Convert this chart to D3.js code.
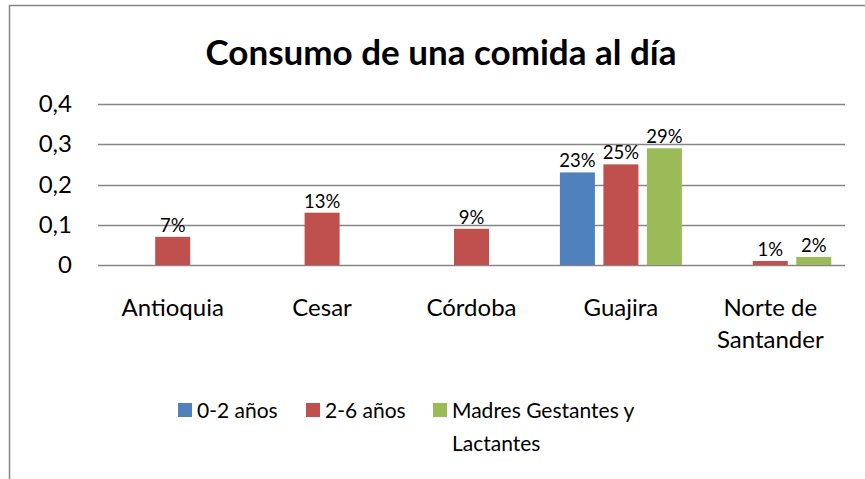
<!DOCTYPE html>
<html>
<head>
<meta charset="utf-8">
<script src="https://cdn.jsdelivr.net/npm/d3@7"></script>
<style>
  body { margin: 0; background: #fff; }
  text { font-family: Lato, "Open Sans", sans-serif; fill: #000; }
</style>
</head>
<body>
<div id="chart"></div>
<script>
// Consumo de una comida al dia - grouped bars

var categories = ["Antioquia", "Cesar", "Córdoba", "Guajira", "Norte de Santander"]
var seriesNames = ["0-2 años", "2-6 años", "Madres Gestantes y Lactantes"]
var infants = [null, null, null, 0.23, null]
var children = [0.07, 0.13, 0.09, 0.25, 0.01]
var mothers = [null, null, null, 0.29, 0.02]
var yTicks = [0, 0.1, 0.2, 0.3, 0.4]
var yTickLabels = ["0", "0,1", "0,2", "0,3", "0,4"]
var colors = ["#4F81BD", "#C0504D", "#9BBB59"]

var width = 865, height = 479

var svg = d3.select("#chart").append("svg")
    .attr("width", width)
    .attr("height", height)

// chart frame (cropped on the right and bottom)
svg.append("path")
  .attr("d", "M9.5," + height + "V5.5H" + width)
  .attr("fill", "none")
  .attr("stroke", "#868686")
  .attr("stroke-width", 1.5)

svg.append("text")
  .attr("x", 441)
  .attr("y", 65)
  .attr("text-anchor", "middle")
  .style("font-size", "35px")
  .style("font-weight", "bold")
  .text("Consumo de una comida al día")

var x = d3.scaleBand()
  .domain(categories)
  .range([98, 845])

var y = d3.scaleLinear()
  .domain([0, 0.4])
  .range([265, 104])

var barWidth = 35, barGap = 8.5
var xSeries = d3.scaleBand()
  .domain([0, 1, 2])
  .range([0, 3 * barWidth + 2 * barGap])
  .paddingInner(barGap / (barWidth + barGap))

// gridlines
svg.selectAll(".grid")
  .data(yTicks)
  .enter().append("line")
  .attr("class", "grid")
  .attr("x1", 98)
  .attr("x2", 845)
  .attr("y1", function (d) { return Math.round(y(d)) + 0.5 })
  .attr("y2", function (d) { return Math.round(y(d)) + 0.5 })
  .attr("stroke", "#868686")
  .attr("stroke-width", 1.5)

svg.selectAll(".ytick")
  .data(yTicks)
  .enter().append("text")
  .attr("class", "ytick")
  .attr("x", 72)
  .attr("y", function (d) { return y(d) + 8 })
  .attr("text-anchor", "end")
  .style("font-size", "24px")
  .text(function (d, i) { return yTickLabels[i] })

var allSeries = [infants, children, mothers]
var bars = []
allSeries.forEach(function (values, s) {
  values.forEach(function (v, i) {
    if (v !== null) bars.push({ cat: categories[i], value: v, s: s })
  })
})

var groupOffset = (x.bandwidth() - xSeries.range()[1]) / 2

svg.selectAll(".bar")
  .data(bars)
  .enter().append("rect")
  .attr("class", "bar")
  .attr("x", function (d) { return x(d.cat) + groupOffset + xSeries(d.s) })
  .attr("width", xSeries.bandwidth())
  .attr("y", function (d) { return y(d.value) })
  .attr("height", function (d) { return y(0) - y(d.value) })
  .attr("fill", function (d) { return colors[d.s] })

svg.selectAll(".label")
  .data(bars)
  .enter().append("text")
  .attr("class", "label")
  .attr("x", function (d) { return x(d.cat) + groupOffset + xSeries(d.s) + xSeries.bandwidth() / 2 })
  .attr("y", function (d) { return y(d.value) - 5 })
  .attr("text-anchor", "middle")
  .style("font-size", "18.5px")
  .text(function (d) { return Math.round(d.value * 100) + "%" })

// category labels, wrapped like Excel
var catLines = {
  "Norte de Santander": ["Norte de", "Santander"]
}
svg.selectAll(".cat")
  .data(categories)
  .enter().append("text")
  .attr("class", "cat")
  .attr("text-anchor", "middle")
  .style("font-size", "24px")
  .each(function (d) {
    var lines = catLines[d] || [d]
    var t = d3.select(this)
    lines.forEach(function (line, i) {
      t.append("tspan")
        .attr("x", x(d) + x.bandwidth() / 2)
        .attr("y", 316 + i * 32)
        .text(line)
    })
  })

// legend
var legendItems = [
  { x: 178, lines: ["0-2 años"] },
  { x: 306, lines: ["2-6 años"] },
  { x: 433, lines: ["Madres Gestantes y", "Lactantes"] }
]
var legend = svg.selectAll(".legend")
  .data(legendItems)
  .enter().append("g")
  .attr("class", "legend")

legend.append("rect")
  .attr("x", function (d) { return d.x })
  .attr("y", 403)
  .attr("width", 14)
  .attr("height", 14)
  .attr("fill", function (d, i) { return colors[i] })

legend.append("text")
  .style("font-size", "21px")
  .each(function (d) {
    var t = d3.select(this)
    d.lines.forEach(function (line, i) {
      t.append("tspan")
        .attr("x", d.x + 19)
        .attr("y", 418 + i * 33)
        .text(line)
    })
  })
</script>
</body>
</html>
